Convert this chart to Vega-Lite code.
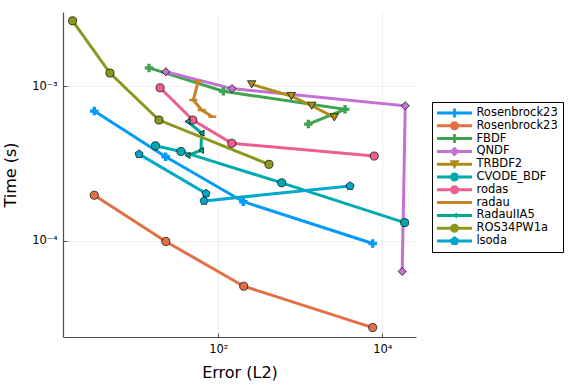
{
  "$schema": "https://vega.github.io/schema/vega-lite/v6.json",
  "width": 353,
  "height": 325,
  "autosize": {"type": "none"},
  "padding": {"left": 63, "top": 12, "right": 160, "bottom": 47},
  "background": "white",
  "config": {
    "font": "DejaVu Sans",
    "view": {"stroke": null},
    "axis": {
      "domainColor": "#4d4d4d",
      "domainWidth": 1.2,
      "gridColor": "#000000",
      "gridOpacity": 0.1,
      "gridWidth": 0.6,
      "tickColor": "#4d4d4d",
      "tickSize": -4,
      "labelFontSize": 11.5,
      "labelColor": "#000000",
      "titleFontSize": 16,
      "titleFontWeight": "normal",
      "titleColor": "#000000"
    }
  },
  "data": {
    "values": [
      {"s": "Rosenbrock23", "k": 1, "err": 3.07, "time": 0.000689},
      {"s": "Rosenbrock23", "k": 2, "err": 22.8, "time": 0.000349},
      {"s": "Rosenbrock23", "k": 3, "err": 202, "time": 0.000179},
      {"s": "Rosenbrock23", "k": 4, "err": 7640, "time": 0.000096},
      {"s": "Rosenbrock23 (2)", "k": 1, "err": 3.07, "time": 0.000197},
      {"s": "Rosenbrock23 (2)", "k": 2, "err": 22.9, "time": 0.000099},
      {"s": "Rosenbrock23 (2)", "k": 3, "err": 204, "time": 0.0000509},
      {"s": "Rosenbrock23 (2)", "k": 4, "err": 7640, "time": 0.0000275},
      {"s": "FBDF", "k": 1, "err": 14.3, "time": 0.00131},
      {"s": "FBDF", "k": 2, "err": 115, "time": 0.000925},
      {"s": "FBDF", "k": 3, "err": 3510, "time": 0.000707},
      {"s": "FBDF", "k": 4, "err": 1253, "time": 0.000568},
      {"s": "QNDF", "k": 1, "err": 22.9, "time": 0.001236},
      {"s": "QNDF", "k": 2, "err": 147, "time": 0.000963},
      {"s": "QNDF", "k": 3, "err": 19050, "time": 0.000746},
      {"s": "QNDF", "k": 4, "err": 17500, "time": 0.0000634},
      {"s": "TRBDF2", "k": 1, "err": 255, "time": 0.001026},
      {"s": "TRBDF2", "k": 2, "err": 776, "time": 0.000862},
      {"s": "TRBDF2", "k": 3, "err": 1377, "time": 0.000746},
      {"s": "TRBDF2", "k": 4, "err": 2600, "time": 0.000628},
      {"s": "CVODE_BDF", "k": 1, "err": 17.1, "time": 0.000411},
      {"s": "CVODE_BDF", "k": 2, "err": 35.1, "time": 0.000378},
      {"s": "CVODE_BDF", "k": 3, "err": 593, "time": 0.000237},
      {"s": "CVODE_BDF", "k": 4, "err": 18740, "time": 0.000131},
      {"s": "rodas", "k": 1, "err": 19.5, "time": 0.000975},
      {"s": "rodas", "k": 2, "err": 48.8, "time": 0.000603},
      {"s": "rodas", "k": 3, "err": 146, "time": 0.000427},
      {"s": "rodas", "k": 4, "err": 7980, "time": 0.000353},
      {"s": "radau", "k": 1, "err": 57.0, "time": 0.001077},
      {"s": "radau", "k": 2, "err": 49.5, "time": 0.000812},
      {"s": "radau", "k": 3, "err": 62.8, "time": 0.0007},
      {"s": "radau", "k": 4, "err": 84.5, "time": 0.000634},
      {"s": "RadauIIA5", "k": 1, "err": 42.1, "time": 0.000591},
      {"s": "RadauIIA5", "k": 2, "err": 62.4, "time": 0.000497},
      {"s": "RadauIIA5", "k": 3, "err": 61.5, "time": 0.000384},
      {"s": "RadauIIA5", "k": 4, "err": 42.1, "time": 0.000356},
      {"s": "ROS34PW1a", "k": 1, "err": 1.67, "time": 0.00264},
      {"s": "ROS34PW1a", "k": 2, "err": 4.77, "time": 0.001213},
      {"s": "ROS34PW1a", "k": 3, "err": 18.9, "time": 0.000603},
      {"s": "ROS34PW1a", "k": 4, "err": 415, "time": 0.000312},
      {"s": "lsoda", "k": 1, "err": 10.8, "time": 0.000363},
      {"s": "lsoda", "k": 2, "err": 70.8, "time": 0.000202},
      {"s": "lsoda", "k": 3, "err": 66.9, "time": 0.000181},
      {"s": "lsoda", "k": 4, "err": 4040, "time": 0.000226}
    ]
  },
  "encoding": {
    "x": {
      "field": "err",
      "type": "quantitative",
      "scale": {"type": "log", "domain": [1.276, 25760], "nice": false},
      "axis": {
        "title": "Error (L2)",
        "values": [100, 10000],
        "labelExpr": "datum.value < 1000 ? '10²' : '10⁴'",
        "labelPadding": 10,
        "titlePadding": 10
      }
    },
    "y": {
      "field": "time",
      "type": "quantitative",
      "scale": {"type": "log", "domain": [0.0000239, 0.00301], "nice": false},
      "axis": {
        "title": "Time (s)",
        "values": [0.0001, 0.001],
        "labelExpr": "datum.value < 0.0005 ? '10⁻⁴' : '10⁻³'",
        "labelPadding": 10,
        "titlePadding": 13
      }
    },
    "color": {
      "field": "s",
      "type": "nominal",
      "scale": {
        "domain": ["Rosenbrock23", "Rosenbrock23 (2)", "FBDF", "QNDF", "TRBDF2", "CVODE_BDF", "rodas", "radau", "RadauIIA5", "ROS34PW1a", "lsoda"],
        "range": ["#009AFA", "#E36F47", "#3EA44E", "#C371D2", "#AC8E18", "#00AAAE", "#ED5E93", "#C68225", "#00A98D", "#8E971D", "#00A8CB"]
      },
      "legend": null
    }
  },
  "layer": [
    {
      "mark": {"type": "line", "strokeWidth": 3, "clip": true},
      "encoding": {
        "color": {
          "field": "s",
          "type": "nominal",
          "legend": {
            "title": null,
            "orient": "none",
            "legendX": 369,
            "legendY": 90,
            "padding": 5,
            "strokeColor": "#000000",
            "fillColor": "#ffffff",
            "symbolSize": 144,
            "labelFontSize": 11.5,
            "labelColor": "#000000",
            "labelOffset": 27.4,
            "rowPadding": 0.8,
            "labelExpr": "replace(datum.label, ' (2)', '')",
            "encode": {
              "symbols": {
                "update": {
                  "shape": {"signal": "{'Rosenbrock23': 'M-1,-0.25H4.833V0.25H-1Z M1.167,-0.233H1.684V-0.75H2.15V-0.233H2.667V0.233H2.15V0.75H1.684V0.233H1.167Z', 'Rosenbrock23 (2)': 'M-1,-0.25H4.833V0.25H-1Z M1.167,0A0.75,0.75 0 1 1 2.667,0A0.75,0.75 0 1 1 1.167,0Z', 'FBDF': 'M-1,-0.25H4.833V0.25H-1Z M1.167,-0.233H1.684V-0.75H2.15V-0.233H2.667V0.233H2.15V0.75H1.684V0.233H1.167Z', 'QNDF': 'M-1,-0.25H4.833V0.25H-1Z M1.917,-0.83L2.747,0L1.917,0.83L1.087,0Z', 'TRBDF2': 'M-1,-0.25H4.833V0.25H-1Z M1.087,-0.67H2.747L1.917,0.83Z', 'CVODE_BDF': 'M-1,-0.25H4.833V0.25H-1Z M1.167,0A0.75,0.75 0 1 1 2.667,0A0.75,0.75 0 1 1 1.167,0Z', 'rodas': 'M-1,-0.25H4.833V0.25H-1Z M1.167,0A0.75,0.75 0 1 1 2.667,0A0.75,0.75 0 1 1 1.167,0Z', 'radau': 'M-1,-0.25H4.833V0.25H-1Z', 'RadauIIA5': 'M-1,-0.25H4.833V0.25H-1Z M1.417,0L2.337,-0.5V0.5Z', 'ROS34PW1a': 'M-1,-0.25H4.833V0.25H-1Z M1.167,0A0.75,0.75 0 1 1 2.667,0A0.75,0.75 0 1 1 1.167,0Z', 'lsoda': 'M-1,-0.25H4.833V0.25H-1Z M1.917,-0.83L2.706,-0.256L2.405,0.671L1.429,0.671L1.128,-0.256Z'}[datum.value]"},
                  "fill": {"scale": "color", "field": "value"},
                  "stroke": {"value": "transparent"},
                  "strokeWidth": {"value": 0},
                  "opacity": {"value": 1}
                }
              }
            }
          }
        },
        "order": {"field": "k", "type": "quantitative"}
      }
    },
    {
      "transform": [{"filter": "datum.s == 'Rosenbrock23' || datum.s == 'FBDF'"}],
      "mark": {"type": "point", "shape": "cross", "filled": true, "opacity": 1, "size": 72, "clip": true}
    },
    {
      "transform": [{"filter": "datum.s == 'radau'"}],
      "mark": {"type": "point", "shape": "M-1,-0.3H1V0.3H-1Z", "filled": true, "opacity": 1, "size": 64, "clip": true}
    },
    {
      "transform": [{"filter": "datum.s == 'Rosenbrock23 (2)' || datum.s == 'CVODE_BDF' || datum.s == 'rodas' || datum.s == 'ROS34PW1a'"}],
      "mark": {"type": "point", "shape": "circle", "filled": true, "opacity": 1, "size": 66, "stroke": "#000000", "strokeWidth": 0.7, "clip": true}
    },
    {
      "transform": [{"filter": "datum.s == 'QNDF'"}],
      "mark": {"type": "point", "shape": "diamond", "filled": true, "opacity": 1, "size": 66, "stroke": "#000000", "strokeWidth": 0.7, "clip": true}
    },
    {
      "transform": [{"filter": "datum.s == 'TRBDF2'"}],
      "mark": {"type": "point", "shape": "triangle-down", "filled": true, "opacity": 1, "size": 70, "stroke": "#000000", "strokeWidth": 0.7, "clip": true}
    },
    {
      "transform": [{"filter": "datum.s == 'RadauIIA5'"}],
      "mark": {"type": "point", "shape": "triangle-left", "filled": true, "opacity": 1, "size": 36, "stroke": "#000000", "strokeWidth": 0.7, "clip": true}
    },
    {
      "transform": [{"filter": "datum.s == 'lsoda'"}],
      "mark": {"type": "point", "shape": "M0,-1L0.951,-0.309L0.588,0.809L-0.588,0.809L-0.951,-0.309Z", "filled": true, "opacity": 1, "size": 72, "stroke": "#000000", "strokeWidth": 0.7, "clip": true}
    }
  ]
}
